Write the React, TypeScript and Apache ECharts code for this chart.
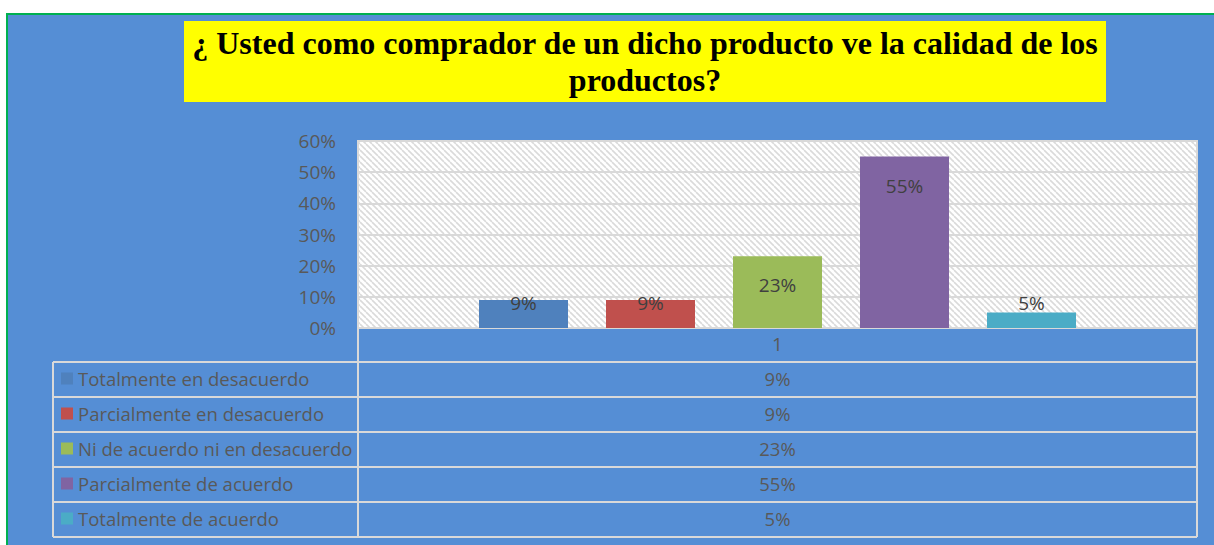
import React, { useEffect, useRef } from 'react';
import * as echarts from 'echarts';

// ---- data ----
const titleText = '¿ Usted como comprador de un dicho producto ve la calidad de los\nproductos?';
const categories = ['1'];
const seriesNames = [
  'Totalmente en desacuerdo',
  'Parcialmente en desacuerdo',
  'Ni de acuerdo ni en desacuerdo',
  'Parcialmente de acuerdo',
  'Totalmente de acuerdo',
];
const seriesValues = [0.09, 0.09, 0.23, 0.55, 0.05];
const yMin = 0;
const yMax = 0.6;
const yInterval = 0.1;

// ---- styles / layout ----
const seriesColors = ['#4F81BD', '#C0504D', '#9BBB59', '#8064A2', '#4BACC6'];
const labelDistances = [-6, -6, 19, 20, -19];
const FONT = '"Open Sans", "Noto Sans", sans-serif';
const FS = 19;
const FS_TABLE = 18.5;
const TEXT_GRAY = '#595959';
const LINE_GRAY = '#D9D9D9';
const BG_BLUE = '#558ED5';
const G = { left: 358, top: 141, right: 1197, bottom: 328 };
const TABLE_LEFT = 53;
const ROW_TOP = 362;
const ROW_H = 35;
const W = 1214;
const H = 545;

const pct = (v: number) => Math.round(v * 100) + '%';

function makePattern() {
  const c = document.createElement('canvas');
  c.width = 6;
  c.height = 6;
  const ctx = c.getContext('2d')!;
  ctx.fillStyle = '#FFFFFF';
  ctx.fillRect(0, 0, 6, 6);
  ctx.strokeStyle = '#DADADA';
  ctx.lineWidth = 1.6;
  for (const o of [-6, 0, 6]) {
    ctx.beginPath();
    ctx.moveTo(o, 0);
    ctx.lineTo(o + 6, 6);
    ctx.stroke();
  }
  return c;
}

export default function App() {
  const ref = useRef<HTMLDivElement>(null);

  useEffect(() => {
    if (!ref.current) return;
    const chart = echarts.init(ref.current, null, { renderer: 'svg', width: W, height: H });

    const graphics: any[] = [];
    graphics.push({
      type: 'rect',
      z: -100,
      shape: { x: 7, y: 14, width: W + 20, height: H + 20 },
      style: { fill: BG_BLUE, stroke: '#00B050', lineWidth: 2 },
      silent: true,
    });
    graphics.push({
      type: 'rect',
      z: -50,
      shape: { x: 184, y: 21, width: 922, height: 81 },
      style: { fill: '#FFFF00' },
      silent: true,
    });
    const tableBottom = ROW_TOP + ROW_H * seriesNames.length;
    const lineStyle = { stroke: LINE_GRAY, lineWidth: 2 };
    graphics.push({ type: 'line', z: 5, shape: { x1: TABLE_LEFT, y1: ROW_TOP, x2: TABLE_LEFT, y2: tableBottom }, style: lineStyle });
    graphics.push({ type: 'line', z: 5, shape: { x1: G.left, y1: G.bottom, x2: G.left, y2: tableBottom }, style: lineStyle });
    graphics.push({ type: 'line', z: 5, shape: { x1: G.right, y1: G.bottom, x2: G.right, y2: tableBottom }, style: lineStyle });
    for (let i = 0; i <= seriesNames.length; i++) {
      const y = ROW_TOP + ROW_H * i;
      graphics.push({ type: 'line', z: 5, shape: { x1: TABLE_LEFT, y1: y, x2: G.right, y2: y }, style: lineStyle });
    }
    seriesNames.forEach((name, i) => {
      const cy = ROW_TOP + ROW_H * i + ROW_H / 2 - 1;
      graphics.push({
        type: 'rect', z: 6,
        shape: { x: 61, y: cy - 6, width: 12, height: 12 },
        style: { fill: seriesColors[i] },
      });
      graphics.push({
        type: 'text', z: 6, x: 78, y: cy,
        style: { text: name, fill: TEXT_GRAY, fontSize: FS_TABLE, fontFamily: FONT, textAlign: 'left', textVerticalAlign: 'middle' },
      });
      graphics.push({
        type: 'text', z: 6, x: (G.left + G.right) / 2, y: cy,
        style: { text: pct(seriesValues[i]), fill: TEXT_GRAY, fontSize: FS_TABLE, fontFamily: FONT, textAlign: 'center', textVerticalAlign: 'middle' },
      });
    });

    const option: any = {
      animation: false,
      backgroundColor: '#FFFFFF',
      title: {
        text: titleText,
        left: 645,
        top: 24,
        padding: 0,
        textAlign: 'center',
        textStyle: {
          fontFamily: '"Liberation Serif", "Times New Roman", serif',
          fontWeight: 'bold',
          fontSize: 32,
          lineHeight: 37,
          color: '#000000',
        },
      },
      grid: {
        left: G.left,
        top: G.top,
        width: G.right - G.left,
        height: G.bottom - G.top,
        show: true,
        backgroundColor: { image: makePattern(), repeat: 'repeat' },
        borderColor: LINE_GRAY,
        borderWidth: 2,
      },
      xAxis: {
        type: 'category',
        data: categories,
        axisTick: { show: false },
        axisLine: { show: true, lineStyle: { color: LINE_GRAY, width: 2 } },
        axisLabel: { color: TEXT_GRAY, fontSize: FS, fontFamily: FONT, margin: 6 },
        splitLine: { show: false },
      },
      yAxis: {
        type: 'value',
        min: yMin,
        max: yMax,
        interval: yInterval,
        axisLine: { show: false },
        axisTick: { show: false },
        axisLabel: { color: TEXT_GRAY, fontSize: FS, fontFamily: FONT, margin: 22, formatter: (v: number) => pct(v) },
        splitLine: { show: true, lineStyle: { color: LINE_GRAY, width: 2 } },
      },
      series: seriesNames.map((name, i) => ({
        type: 'bar',
        name,
        data: [seriesValues[i]],
        barWidth: 89,
        barGap: '42.7%',
        itemStyle: { color: seriesColors[i] },
        label: {
          show: true,
          position: 'insideTop',
          distance: labelDistances[i],
          color: '#404040',
          fontSize: FS,
          fontFamily: FONT,
          formatter: (p: any) => pct(p.value),
        },
      })),
      graphic: graphics,
    };
    chart.setOption(option);
    return () => chart.dispose();
  }, []);

  return <div ref={ref} style={{ position: 'fixed', left: 0, top: 0, width: W, height: H }} />;
}
